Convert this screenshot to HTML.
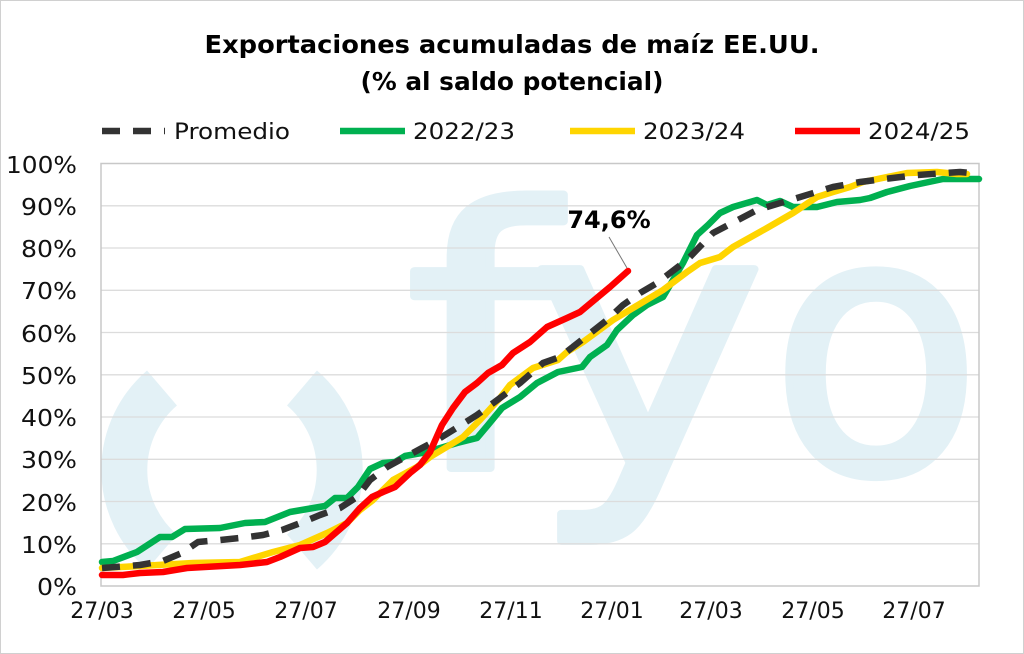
<!DOCTYPE html>
<html><head><meta charset="utf-8"><style>
html,body{margin:0;padding:0;background:#fff}
svg{display:block}
text{font-family:"DejaVu Sans","Liberation Sans",sans-serif;fill:#111}
text.wm{fill:#e3f1f6;stroke:#e3f1f6;stroke-width:8;stroke-linejoin:round}
</style></head><body>
<svg width="1024" height="654" viewBox="0 0 1024 654" xmlns="http://www.w3.org/2000/svg">
<defs><clipPath id="pc"><rect x="101" y="163.5" width="878" height="422.5"/></clipPath></defs>
<rect x="0.5" y="0.5" width="1023" height="653" fill="#fff" stroke="#d0d0d0"/>
<!-- watermark -->
<g clip-path="url(#pc)">
<g fill="none" stroke="#e3f1f6" stroke-width="46">
<path d="M162 388 A108 108 0 0 0 162 552"/>
<path d="M302 388 A108 108 0 0 1 302 552"/>
</g>
<g font-size="360">
<text class="wm" x="405" y="468" textLength="150" lengthAdjust="spacingAndGlyphs">f</text>
<text class="wm" x="530" y="466" textLength="236" lengthAdjust="spacingAndGlyphs">y</text>
<text class="wm" x="770" y="472" textLength="212" lengthAdjust="spacingAndGlyphs">o</text>
</g>
</g>
<!-- grid -->
<g stroke="#dcdcdc" stroke-width="1.3">
<line x1="101" x2="979" y1="205.8" y2="205.8"/><line x1="101" x2="979" y1="248" y2="248"/>
<line x1="101" x2="979" y1="290.3" y2="290.3"/><line x1="101" x2="979" y1="332.5" y2="332.5"/>
<line x1="101" x2="979" y1="374.8" y2="374.8"/><line x1="101" x2="979" y1="417" y2="417"/>
<line x1="101" x2="979" y1="459.3" y2="459.3"/><line x1="101" x2="979" y1="501.5" y2="501.5"/>
<line x1="101" x2="979" y1="543.8" y2="543.8"/>
</g>
<rect x="101" y="163.5" width="878" height="422.5" fill="none" stroke="#c8c8c8" stroke-width="1.5"/>
<!-- y labels -->
<g font-size="23" text-anchor="end">
<text x="77" y="173" textLength="71" lengthAdjust="spacingAndGlyphs">100%</text>
<text x="77" y="215" textLength="56" lengthAdjust="spacingAndGlyphs">90%</text>
<text x="77" y="257" textLength="56" lengthAdjust="spacingAndGlyphs">80%</text>
<text x="77" y="299" textLength="56" lengthAdjust="spacingAndGlyphs">70%</text>
<text x="77" y="342" textLength="56" lengthAdjust="spacingAndGlyphs">60%</text>
<text x="77" y="384" textLength="56" lengthAdjust="spacingAndGlyphs">50%</text>
<text x="77" y="426" textLength="56" lengthAdjust="spacingAndGlyphs">40%</text>
<text x="77" y="468" textLength="56" lengthAdjust="spacingAndGlyphs">30%</text>
<text x="77" y="511" textLength="56" lengthAdjust="spacingAndGlyphs">20%</text>
<text x="77" y="553" textLength="56" lengthAdjust="spacingAndGlyphs">10%</text>
<text x="77" y="595" textLength="40" lengthAdjust="spacingAndGlyphs">0%</text>
</g>
<g font-size="22" text-anchor="middle">
<text x="102" y="618">27/03</text><text x="204" y="618">27/05</text><text x="306" y="618">27/07</text>
<text x="409" y="618">27/09</text><text x="511" y="618">27/11</text><text x="612" y="618">27/01</text>
<text x="711" y="618">27/03</text><text x="813" y="618">27/05</text><text x="914" y="618">27/07</text>
</g>
<!-- series -->
<g fill="none" stroke-width="6.5" stroke-linejoin="round" stroke-linecap="round">
<polyline stroke="#00b050" points="102,562 113,561 137,552 160,537 172,537 185,529 220,528 245,523 265,522 290,512 325,506 335,498 347,498 358,487 370,469 383,463 395,462 405,456 427,452 457,443 477,438 488,425 502,408 520,397 537,383 558,372 582,367 590,357 607,345 617,330 633,315 647,305 663,297 683,263 697,235 708,225 720,213 733,207 757,200 767,205 780,201 793,207 817,207 837,202 860,200 870,198 887,192 910,186 943,179 979,179"/>
<polyline stroke="#ffd500" points="102,568 140,566 193,563 240,562 273,552 300,545 327,533 347,523 360,510 373,500 393,480 417,467 430,457 450,445 463,437 480,420 500,398 510,385 533,368 558,360 567,352 583,342 613,320 663,290 687,272 700,263 720,257 733,247 767,228 793,213 817,197 833,192 850,187 863,182 907,173 937,172 957,174 967,174"/>
<polyline stroke="#333" stroke-dasharray="18 13" stroke-linecap="butt" points="102,568 140,565 163,561 182,553 198,542 220,540 240,538 263,535 282,530 303,522 320,515 340,508 357,497 370,480 387,467 422,448 437,440 458,427 477,415 500,398 520,383 543,363 560,357 607,320 623,305 640,293 657,283 687,260 713,233 757,210 797,198 833,187 860,182 917,175 960,172 970,173"/>
<polyline stroke="#ff0000" points="102,575 123,575 140,573 163,572 187,568 240,565 267,562 280,557 300,548 313,547 325,542 347,523 360,508 372,497 383,492 395,487 410,473 420,465 430,452 442,425 453,408 465,392 477,383 488,373 502,365 513,353 530,342 547,327 567,318 580,312 592,302 610,287 628,271"/>
</g>
<line x1="609" y1="237" x2="627" y2="268" stroke="#777" stroke-width="1"/>
<text x="609" y="228" font-size="24" font-weight="bold" text-anchor="middle" style="fill:#000">74,6%</text>
<!-- title -->
<text x="512" y="53" font-size="25" font-weight="bold" text-anchor="middle" textLength="615" lengthAdjust="spacingAndGlyphs" style="fill:#000">Exportaciones acumuladas de maíz EE.UU.</text>
<text x="512" y="90" font-size="25" font-weight="bold" text-anchor="middle" textLength="303" lengthAdjust="spacingAndGlyphs" style="fill:#000">(% al saldo potencial)</text>
<!-- legend -->
<g stroke-width="6.5" fill="none">
<line x1="102" y1="131" x2="165" y2="131" stroke="#333" stroke-dasharray="18 13"/>
<line x1="340" y1="131" x2="405" y2="131" stroke="#00b050"/>
<line x1="570" y1="131" x2="635" y2="131" stroke="#ffd500"/>
<line x1="795" y1="131" x2="860" y2="131" stroke="#ff0000"/>
</g>
<g font-size="22">
<text x="174" y="139" textLength="116" lengthAdjust="spacingAndGlyphs">Promedio</text>
<text x="413" y="139" textLength="102" lengthAdjust="spacingAndGlyphs">2022/23</text>
<text x="643" y="139" textLength="102" lengthAdjust="spacingAndGlyphs">2023/24</text>
<text x="868" y="139" textLength="102" lengthAdjust="spacingAndGlyphs">2024/25</text>
</g>
</svg>
</body></html>
